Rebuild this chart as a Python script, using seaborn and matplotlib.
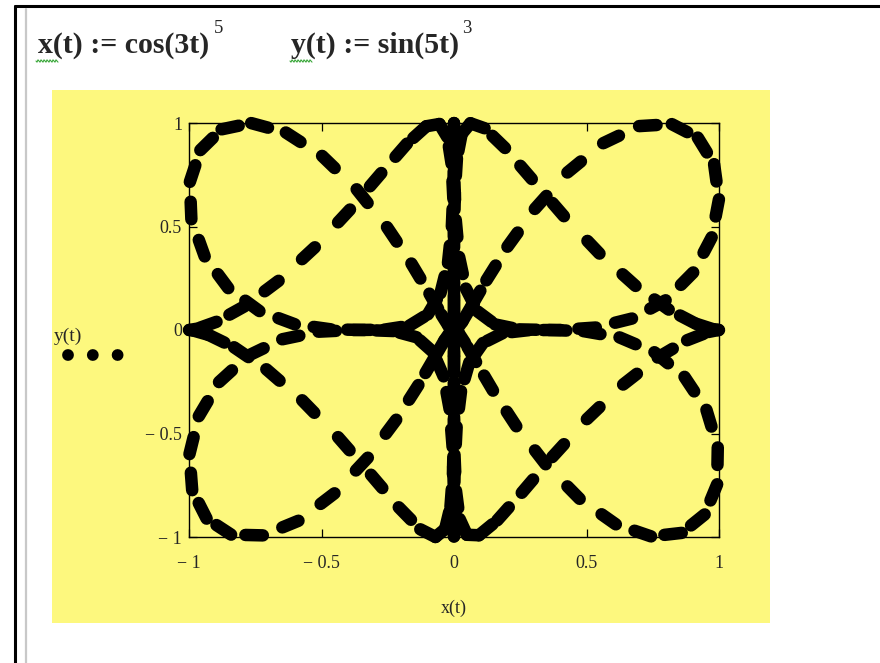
import numpy as np
import pandas as pd
import matplotlib
matplotlib.use("Agg")
import matplotlib.pyplot as plt
from matplotlib.patches import Rectangle
from matplotlib.lines import Line2D
import seaborn as sns

# Parametric definitions shown in the worksheet header
X_FREQ, X_POW = 3, 5      # x(t) := cos(3t)^5
Y_FREQ, Y_POW = 5, 3      # y(t) := sin(5t)^3
T_STEP = 0.032            # range variable step for t
t = np.arange(0.0, 2.0 * np.pi + T_STEP, T_STEP)
x_vals = np.cos(X_FREQ * t) ** X_POW
y_vals = np.sin(Y_FREQ * t) ** Y_POW

x_ticks = [-1, -0.5, 0, 0.5, 1]
x_tick_labels = ["\u2212 1", "\u2212 0.5", "0", "0.5", "1"]
y_ticks = [-1, -0.5, 0, 0.5, 1]
y_tick_labels = ["\u2212 1", "\u2212 0.5", "0", "0.5", "1"]

YELLOW = "#FDF87E"
W, H = 880, 663

# every segment between consecutive samples is its own trace piece, so the
# dot pattern restarts at each sample
seg_idx = np.arange(len(t) - 1)
segments = pd.DataFrame({
    "seg": np.repeat(seg_idx, 2),
    "x": np.column_stack([x_vals[:-1], x_vals[1:]]).ravel(),
    "y": np.column_stack([y_vals[:-1], y_vals[1:]]).ravel(),
})

sns.set_theme(style="white")
plt.rcParams["font.family"] = ["Liberation Serif", "DejaVu Serif"]

fig = plt.figure(figsize=(W / 100, H / 100), dpi=100)
fig.patch.set_facecolor("white")


def fx(px):
    return np.asarray(px) / W


def fy(py):
    return 1 - np.asarray(py) / H


# worksheet frame
fig.add_artist(Line2D([fx(15), fx(15)], [fy(6), 0], color="black", lw=2.2))
fig.add_artist(Line2D([fx(15), 1], [fy(6), fy(6)], color="black", lw=2.2))
fig.add_artist(Line2D([fx(25.5), fx(25.5)], [fy(9), 0], color="#c8c8c8", lw=1.6))

# yellow plot region
fig.add_artist(Rectangle((fx(52), fy(623)), fx(770) - fx(52), fy(90) - fy(623),
                         transform=fig.transFigure, facecolor=YELLOW,
                         edgecolor="none", zorder=0))

# header definitions
fig.text(fx(38), fy(53), "x(t) := cos(3t)", fontsize=21.5, fontweight="bold",
         ha="left", va="baseline")
fig.text(fx(214), fy(33), "5", fontsize=13.5, ha="left", va="baseline")
fig.text(fx(291), fy(53), "y(t) := sin(5t)", fontsize=21.5, fontweight="bold",
         ha="left", va="baseline")
fig.text(fx(462), fy(33), "3", fontsize=13.5, ha="left", va="baseline")

# spell-check squiggles under the variable names
for x0 in (36, 290):
    xs = np.linspace(x0, x0 + 22, 23)
    ys = 61 + 1.3 * np.sin((xs - x0) * np.pi / 1.5)
    fig.add_artist(Line2D(fx(xs), fy(ys), color="#3aa83a", lw=0.8))

# plot axes
ax = fig.add_axes([fx(189), fy(537), fx(719) - fx(189), fy(123) - fy(537)])
ax.set_facecolor(YELLOW)

sns.lineplot(data=segments, x="x", y="y", units="seg", estimator=None,
             sort=False, color="black", lw=9.0, ax=ax)
for ln in ax.lines:
    ln.set_dashes((1.4, 30))
    ln.set_dash_capstyle("round")
    ln.set_solid_capstyle("round")
    ln.set_clip_on(False)

ax.set_xlim(-1, 1)
ax.set_ylim(-1, 1)
ax.set_xticks(x_ticks)
ax.set_xticklabels(x_tick_labels)
ax.set_yticks(y_ticks)
ax.set_yticklabels(y_tick_labels)
ax.tick_params(axis="both", direction="in", length=6, width=0.9, color="black",
               labelsize=13, top=True, right=True, bottom=True, left=True)
ax.tick_params(axis="x", pad=13)
ax.tick_params(axis="y", pad=5)
for sp in ax.spines.values():
    sp.set_color("black")
    sp.set_linewidth(1.0)
    sp.set_zorder(3)
ax.set_xlabel("x(t)", fontsize=13, labelpad=20)
ax.set_ylabel("")

# trace legend
fig.text(fx(54), fy(341), "y(t)", fontsize=14, ha="left", va="baseline")
legend_line = Line2D([fx(68), fx(118)], [fy(355), fy(355)], color="black", lw=8.5,
                     dashes=(0.001, 2.1), dash_capstyle="round")
fig.add_artist(legend_line)

fig.savefig("out.png", dpi=100, facecolor="white")
